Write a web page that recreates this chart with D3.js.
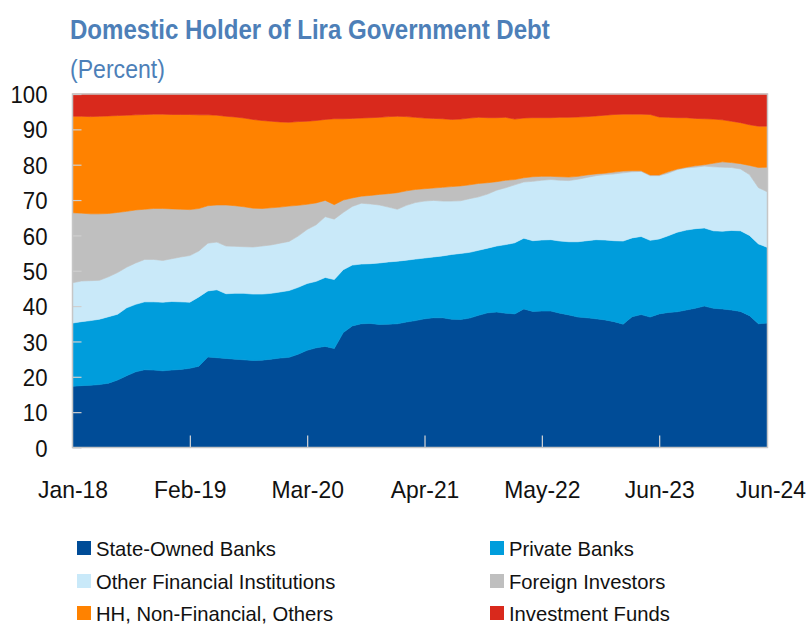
<!DOCTYPE html>
<html><head><meta charset="utf-8">
<script src="https://cdn.jsdelivr.net/npm/d3@7"></script>
<style>body{margin:0;background:#fff}svg{display:block}text{font-family:"Liberation Sans",Arial,sans-serif}</style>
</head><body>
<svg id="chart" width="812" height="626"></svg>
<script>
// ---- data ----
const months = d3.timeMonth.range(new Date(2018,0,1), new Date(2024,6,1)).map(d3.timeFormat("%b-%y"));
const tickLabels = ["Jan-18","Feb-19","Mar-20","Apr-21","May-22","Jun-23","Jun-24"];
const yTickValues = [0,10,20,30,40,50,60,70,80,90,100];
const seriesKeys = ["sob","pb","ofi","fi","hh","inv"];
const seriesNames = ["State-Owned Banks","Private Banks","Other Financial Institutions","Foreign Investors","HH, Non-Financial, Others","Investment Funds"];
const seriesColors = ["#004c97","#009ddc","#c9e9f9","#bfbfbf","#ff8200","#d9291c"];

const stateOwned = [17.3,17.5,17.6,17.8,18.2,19.1,20.3,21.4,22.0,21.9,21.7,21.9,22.1,22.4,23.0,25.6,25.4,25.2,25.0,24.8,24.6,24.7,25.0,25.3,25.5,26.4,27.5,28.2,28.6,28.0,32.5,34.4,35.0,35.1,34.8,34.9,35.0,35.5,35.9,36.4,36.7,36.7,36.3,36.2,36.6,37.4,38.1,38.3,38.0,37.8,39.2,38.5,38.6,38.6,38.0,37.5,36.9,36.7,36.4,36.1,35.6,34.9,37.0,37.6,36.9,37.8,38.2,38.4,38.9,39.4,40.0,39.4,39.2,38.9,38.5,37.3,35.0,35.2];
const privateBanks = [17.9,18.1,18.3,18.5,18.8,18.6,19.2,19.1,19.2,19.3,19.4,19.4,19.1,18.7,19.6,18.7,19.2,18.3,18.6,18.8,18.8,18.7,18.6,18.7,18.9,18.9,18.9,18.8,19.5,19.5,17.8,17.2,16.9,16.9,17.4,17.6,17.7,17.5,17.4,17.2,17.2,17.5,18.3,18.7,18.6,18.4,18.3,18.7,19.4,20.1,20.0,20.0,20.1,20.2,20.4,20.7,21.3,21.8,22.4,22.6,22.9,23.5,22.3,22.1,21.7,21.2,21.7,22.5,22.6,22.5,22.1,21.9,22.0,22.5,22.8,22.7,22.6,21.4];
const otherFinancial = [11.4,11.5,11.3,11.0,11.3,11.8,11.5,11.7,12.0,12.0,11.8,12.1,12.7,13.2,13.0,13.5,13.5,13.5,13.3,13.2,13.3,13.6,13.7,13.8,13.9,14.5,15.3,16.0,17.2,17.1,16.2,16.6,17.2,16.9,16.4,15.5,14.7,15.5,16.0,16.1,16.0,15.5,15.1,14.9,15.2,15.1,15.3,15.8,16.1,16.4,15.9,16.8,16.9,17.0,17.2,17.3,17.7,17.9,18.1,18.5,18.9,19.3,18.7,18.4,18.3,17.9,17.7,17.7,17.6,17.4,17.5,18.1,18.1,17.8,17.5,17.2,15.9,15.7];
const foreignInvestors = [19.8,19.2,18.9,18.8,17.9,17.0,15.8,15.0,14.2,14.4,14.7,14.1,13.5,13.0,12.0,10.6,10.5,11.6,11.5,11.3,11.0,10.6,10.5,10.2,10.0,8.7,7.1,6.2,4.6,4.1,3.5,2.4,2.0,2.4,3.0,3.8,4.7,4.1,3.7,3.5,3.5,3.9,4.1,4.2,3.9,3.8,3.2,2.4,2.1,1.5,1.2,1.3,1.1,0.9,1.0,1.0,0.8,0.7,0.5,0.4,0.5,0.5,0.3,0.2,0.2,0.2,0.4,0.2,0.2,0.4,0.4,1.0,1.5,1.4,1.5,2.6,5.7,7.0];
const households = [27.3,27.4,27.5,27.6,27.6,27.4,27.2,26.9,26.8,26.7,26.7,26.7,26.8,26.9,26.5,25.7,25.4,25.1,25.1,25.1,25.1,24.9,24.5,24.1,23.7,23.7,23.5,23.3,22.9,24.3,23.0,22.5,22.1,22.0,21.8,21.8,21.6,21.0,20.4,20.0,19.7,19.4,19.0,18.9,18.9,18.7,18.4,18.1,17.8,17.1,16.9,16.7,16.6,16.6,16.8,16.9,16.8,16.5,16.4,16.4,16.3,16.1,16.0,16.0,17.1,16.4,15.4,14.5,14.0,13.4,13.0,12.5,11.9,11.7,11.6,11.5,11.7,11.6];
const investmentFunds = [6.3,6.3,6.4,6.3,6.2,6.1,6.0,5.9,5.8,5.7,5.7,5.8,5.8,5.8,5.9,5.9,6.0,6.3,6.5,6.8,7.2,7.5,7.7,7.9,8.0,7.8,7.7,7.5,7.2,7.0,7.0,6.9,6.8,6.7,6.6,6.4,6.3,6.4,6.6,6.8,6.9,7.0,7.2,7.1,6.8,6.6,6.7,6.7,6.6,7.1,6.8,6.7,6.7,6.7,6.6,6.6,6.5,6.4,6.2,6.0,5.8,5.7,5.7,5.7,5.8,6.5,6.6,6.7,6.7,6.9,7.0,7.1,7.3,7.7,8.1,8.7,9.1,9.1];

const seriesValues = [stateOwned, privateBanks, otherFinancial, foreignInvestors, households, investmentFunds];
const table = months.map((m, i) => {
  const row = {month: m};
  seriesKeys.forEach((k, j) => row[k] = seriesValues[j][i]);
  return row;
});

// ---- layout ----
const svg = d3.select("#chart");
const plot = {left: 72.5, right: 767.5, top: 94, bottom: 447.5};
const FONT = '"Liberation Sans",Arial,sans-serif';
const TXT = "#111";
const TITLE = "#4d7fb8";

const x = d3.scalePoint().domain(months).range([plot.left, plot.right]).padding(0);
const y = d3.scaleLinear().domain([0, 100]).range([plot.bottom, plot.top]);

const stack = d3.stack().keys(seriesKeys);
const layers = stack(table);
const area = d3.area()
  .x(d => x(d.data.month))
  .y0(d => y(d[0]))
  .y1(d => y(d[1]));

svg.append("g").selectAll("path").data(layers).join("path")
  .attr("d", area)
  .attr("fill", (d, i) => seriesColors[i])
  .attr("stroke", (d, i) => seriesColors[i])
  .attr("stroke-width", 0.6);

function condense(sel, sx) {
  sel.each(function() {
    const t = d3.select(this);
    const xx = +t.attr("x") || 0;
    const yy = +t.attr("y") || 0;
    t.attr("x", 0).attr("y", 0).attr("transform", `translate(${xx},${yy}) scale(${sx},1)`);
  });
}
function sxFor(sel, target) {
  const n = sel.node();
  return n ? target / n.getComputedTextLength() : 1;
}

// y axis
const yAxis = svg.append("g")
  .attr("transform", `translate(${plot.left},0)`)
  .call(d3.axisLeft(y).tickValues(yTickValues).tickSizeInner(-9).tickSizeOuter(0).tickPadding(25));
yAxis.select(".domain").remove();
yAxis.selectAll(".tick line").attr("stroke", "#cfcfcf").attr("stroke-width", 1.2);
yAxis.selectAll(".tick text")
  .attr("font-family", FONT).attr("font-size", 24).attr("fill", TXT).attr("dy", null);
yAxis.selectAll(".tick text").attr("y", 8.6);
{
  const ref = yAxis.selectAll(".tick text").filter(d => d === 100);
  condense(yAxis.selectAll(".tick text"), sxFor(ref, 37));
}

// x axis
const xAxis = svg.append("g")
  .attr("transform", `translate(0,${plot.bottom})`)
  .call(d3.axisBottom(x).tickValues(tickLabels).tickSizeInner(-12).tickSizeOuter(0).tickPadding(32));
xAxis.select(".domain").remove();
xAxis.selectAll(".tick line")
  .attr("stroke", "#d6d6d6").attr("stroke-width", 1.2)
  .attr("display", d => (d === tickLabels[0] || d === tickLabels[tickLabels.length - 1]) ? "none" : null);
xAxis.selectAll(".tick text")
  .attr("font-family", FONT).attr("font-size", 24).attr("fill", TXT)
  .attr("dy", null).attr("y", 50)
  .attr("x", d => d === tickLabels[tickLabels.length - 1] ? 3 : 0);
{
  const ref = xAxis.selectAll(".tick text").filter(d => d === "Jan-18");
  condense(xAxis.selectAll(".tick text"), sxFor(ref, 70));
}

// plot border
svg.append("rect")
  .attr("x", plot.left).attr("y", plot.top)
  .attr("width", plot.right - plot.left).attr("height", plot.bottom - plot.top)
  .attr("fill", "none").attr("stroke", "#c6c6c6").attr("stroke-width", 1.5);

// titles
{
  const t = svg.append("text").attr("x", 70).attr("y", 39)
    .attr("font-family", FONT).attr("font-size", 28).attr("font-weight", "bold")
    .attr("fill", TITLE).text("Domestic Holder of Lira Government Debt");
  condense(t, sxFor(t, 480));
  const p = svg.append("text").attr("x", 70).attr("y", 78)
    .attr("font-family", FONT).attr("font-size", 25)
    .attr("fill", TITLE).text("(Percent)");
  condense(p, sxFor(p, 95));
}

// legend
{
  const colSwatch = [77, 490];
  const colText = [96, 509];
  const rowCenter = [548, 581, 613];
  const lg = svg.append("g");
  const items = lg.selectAll("g").data(seriesNames).join("g");
  items.append("rect")
    .attr("x", (d, i) => colSwatch[i % 2])
    .attr("y", (d, i) => rowCenter[Math.floor(i / 2)] - 7)
    .attr("width", 14).attr("height", 14)
    .attr("fill", (d, i) => seriesColors[i]);
  const texts = items.append("text")
    .attr("x", (d, i) => colText[i % 2])
    .attr("y", (d, i) => rowCenter[Math.floor(i / 2)] + 7.5)
    .attr("font-family", FONT).attr("font-size", 21).attr("fill", TXT)
    .text(d => d);
  condense(texts, sxFor(texts.filter((d, i) => i === 0), 180));
}
</script>
</body></html>
